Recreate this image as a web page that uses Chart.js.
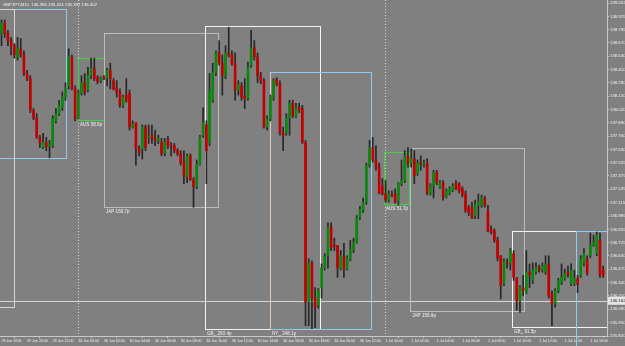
<!DOCTYPE html>
<html>
<head>
<meta charset="utf-8">
<script src="https://cdn.jsdelivr.net/npm/chart.js@4.4.1/dist/chart.umd.min.js"></script>
<style>
  html, body { margin: 0; padding: 0; background: #808080; }
  #c { display: block; }
</style>
</head>
<body>
<canvas id="c" width="625" height="346"></canvas>
<script>
// GBPJPY M15, 29 Jun 18:00 .. 1 Jul 17:00 (2016)
const opens = [
  138.76,138.86,138.76,138.69,138.64,138.53,138.61,138.55,138.37,138.32,
  138.01,137.94,137.75,137.65,137.70,137.67,137.67,137.91,137.98,138.04,
  138.14,138.25,138.53,138.22,137.94,138.18,138.28,138.21,138.35,138.42,
  138.33,138.30,138.33,138.33,138.40,138.30,138.23,138.19,138.06,138.16,
  138.18,137.85,137.89,137.64,137.64,137.85,137.75,137.77,137.74,137.72,
  137.70,137.60,137.73,137.67,137.67,137.62,137.59,137.51,137.37,137.57,
  137.34,137.27,137.49,137.77,137.87,137.70,138.11,138.38,138.57,138.47,
  138.35,138.57,138.55,138.47,138.21,138.25,138.15,138.13,138.45,138.62,
  138.53,138.35,138.30,137.85,137.93,138.14,138.31,138.27,137.79,137.79,
  137.94,138.08,137.95,138.04,138.03,137.70,136.15,136.53,136.19,136.12,
  136.29,136.48,136.60,136.88,136.70,136.70,136.47,136.59,136.47,136.57,
  136.66,136.73,136.97,137.04,137.12,137.48,137.65,137.53,137.46,137.28,
  137.20,137.14,137.19,137.20,137.12,137.30,137.33,137.57,137.50,137.54,
  137.40,137.50,137.49,137.50,137.20,137.28,137.41,137.26,137.31,137.17,
  137.21,137.23,137.30,137.30,137.25,137.20,137.07,137.07,136.99,137.09,
  137.09,137.16,137.04,136.86,136.84,136.75,136.60,136.33,136.53,136.53,
  136.62,136.38,136.16,136.29,136.24,136.44,136.36,136.44,136.48,136.46,
  136.44,136.52,136.23,136.13,136.26,136.34,136.38,136.44,136.33,136.33,
  136.38,136.41,136.53,136.57,136.60,136.70,136.62,136.75,136.46
];
const highs = [
  138.89,138.89,138.79,138.72,138.66,138.72,138.71,138.59,138.40,138.35,
  138.03,137.98,137.77,137.79,137.75,137.72,137.96,138.03,138.11,138.19,
  138.28,138.61,138.55,138.25,138.21,138.35,138.37,138.43,138.52,138.52,
  138.35,138.34,138.35,138.42,138.47,138.32,138.30,138.22,138.16,138.32,
  138.21,137.91,137.89,137.67,137.87,137.87,137.87,137.87,137.82,137.77,
  137.74,137.74,137.76,137.70,137.69,137.64,137.62,137.62,137.59,137.59,
  137.36,137.53,137.77,138.04,137.91,138.37,138.47,138.59,138.69,138.55,
  138.64,138.82,138.59,138.57,138.30,138.28,138.32,138.48,138.79,138.69,
  138.57,138.38,138.32,137.96,138.16,138.32,138.33,138.30,137.85,137.98,
  138.11,138.11,138.08,138.08,138.06,137.72,136.57,136.55,136.29,136.28,
  136.52,136.62,136.92,136.92,136.77,136.70,136.65,136.72,136.60,136.75,
  136.77,136.99,137.08,137.16,137.50,137.72,137.75,137.67,137.50,137.35,
  137.33,137.23,137.23,137.25,137.31,137.53,137.62,137.65,137.64,137.62,
  137.53,137.57,137.53,137.54,137.30,137.43,137.43,137.33,137.33,137.25,
  137.27,137.30,137.33,137.31,137.27,137.23,137.09,137.12,137.14,137.20,
  137.19,137.18,137.09,136.89,136.86,136.78,136.60,136.57,136.57,136.67,
  136.65,136.39,136.31,136.41,136.65,136.52,136.53,136.53,136.51,136.53,
  136.60,136.60,136.26,136.28,136.38,136.52,136.47,136.50,136.52,136.46,
  136.41,136.60,136.67,136.60,136.82,136.80,136.83,136.82,136.50
];
const lows = [
  138.64,138.72,138.64,138.55,138.52,138.50,138.53,138.35,138.30,137.99,
  137.92,137.74,137.65,137.64,137.62,137.55,137.65,137.89,137.96,138.01,
  138.11,138.22,138.21,137.91,137.93,138.16,138.16,138.19,138.32,138.30,
  138.27,138.28,138.31,138.25,138.22,138.21,138.14,138.04,138.04,138.09,
  137.82,137.84,137.48,137.57,137.54,137.62,137.69,137.69,137.67,137.69,
  137.57,137.57,137.64,137.57,137.60,137.57,137.48,137.30,137.31,137.33,
  137.07,137.25,137.48,137.75,137.30,137.67,138.09,138.35,138.45,138.16,
  138.32,138.53,138.45,138.11,138.16,138.11,138.03,138.11,138.43,138.50,
  138.28,138.27,137.84,137.82,137.91,138.11,138.25,137.77,137.62,137.77,
  137.77,137.94,137.94,137.99,137.69,135.92,135.92,135.89,135.90,136.09,
  136.19,136.46,136.48,136.65,136.65,136.39,136.46,136.39,136.46,136.55,
  136.63,136.72,136.95,137.02,137.10,137.46,137.51,137.43,137.20,137.19,
  137.12,137.12,137.17,137.11,137.09,137.28,137.31,137.46,137.46,137.30,
  137.38,137.43,137.46,137.19,137.19,137.16,137.29,137.25,137.14,137.16,
  137.19,137.22,137.24,137.21,137.17,137.02,136.99,136.96,136.96,136.96,
  137.07,137.07,136.83,136.81,136.73,136.55,136.18,136.31,136.48,136.46,
  136.36,136.07,136.05,136.21,136.23,136.29,136.33,136.42,136.44,136.44,
  136.42,136.19,135.92,136.10,136.24,136.32,136.36,136.39,136.31,136.31,
  136.24,136.39,136.50,136.41,136.58,136.69,136.60,136.39,136.39
];
const closes = [
  138.86,138.76,138.69,138.64,138.55,138.62,138.55,138.37,138.32,138.01,
  137.94,137.75,137.70,137.70,137.66,137.69,137.93,137.98,138.06,138.14,
  138.23,138.53,138.22,137.93,138.18,138.28,138.19,138.35,138.42,138.32,
  138.29,138.33,138.32,138.40,138.32,138.22,138.19,138.06,138.14,138.11,
  137.85,137.88,137.64,137.60,137.85,137.65,137.77,137.74,137.72,137.74,
  137.59,137.70,137.67,137.66,137.62,137.59,137.50,137.37,137.57,137.34,
  137.27,137.48,137.75,137.89,137.62,138.21,138.38,138.57,138.47,138.35,
  138.57,138.55,138.47,138.21,138.26,138.14,138.13,138.43,138.62,138.53,
  138.35,138.30,137.85,137.93,138.14,138.30,138.27,137.79,137.77,137.94,
  138.08,137.96,138.04,138.02,137.70,136.15,136.53,136.19,136.10,136.26,
  136.48,136.60,136.88,136.68,136.69,136.48,136.60,136.47,136.58,136.66,
  136.73,136.97,137.05,137.12,137.48,137.65,137.53,137.46,137.21,137.20,
  137.14,137.20,137.18,137.12,137.30,137.33,137.57,137.50,137.54,137.38,
  137.50,137.49,137.50,137.21,137.28,137.41,137.31,137.31,137.17,137.23,
  137.25,137.28,137.25,137.23,137.19,137.04,137.02,136.97,137.09,137.12,
  137.16,137.09,136.84,136.83,136.75,136.58,136.31,136.55,136.52,136.65,
  136.39,136.16,136.29,136.26,136.44,136.41,136.46,136.48,136.46,136.50,
  136.52,136.21,136.13,136.26,136.36,136.39,136.43,136.41,136.46,136.38,
  136.32,136.57,136.62,136.43,136.70,136.73,136.80,136.41,136.41
];

// time axis: bar index of each label (one label every 8 bars = 2 hours)
const timeTicks = [0,8,16,24,32,40,48,56,64,72,80,88,96,104,112,120,128,136,144,152,160,168,176,184];
const timeLabels = [
  '29 Jun 2016','29 Jun 20:00','29 Jun 22:00','30 Jun 00:00','30 Jun 02:00','30 Jun 04:00',
  '30 Jun 06:00','30 Jun 08:00','30 Jun 10:00','30 Jun 12:00','30 Jun 14:00','30 Jun 16:00',
  '30 Jun 18:00','30 Jun 20:00','30 Jun 22:00','1 Jul 00:00','1 Jul 02:00','1 Jul 04:00',
  '1 Jul 06:00','1 Jul 08:00','1 Jul 10:00','1 Jul 12:00','1 Jul 14:00','1 Jul 16:00'
];
const priceTicks = [
  135.820,135.950,136.080,136.210,136.340,136.470,136.600,136.725,136.855,136.985,
  137.115,137.245,137.375,137.505,137.630,137.760,137.890,138.020,138.150,138.280,
  138.410,138.540,138.670,138.795,138.925,139.052
];

// trading session boxes (bar index range, session high / low, range in pips)
const sessKind  = ['NY_', 'GB_', 'AUS', 'JAP', 'GB_', 'NY_', 'AUS', 'JAP', 'GB_', 'NY_'];
const sessStart = [-8, -8, 23.9, 32, 63.6, 83.9, 119.5, 127.7, 159.5, 179.5];
const sessEnd   = [20, 4, 32, 67.7, 99.5, 115.5, 127.3, 163.3, 196, 196];
const sessHigh  = [139.00, 139.00, 138.52, 138.76, 138.83, 138.38, 137.61, 137.65, 136.84, 136.84];
const sessLow   = [137.55, 136.10, 137.92, 137.07, 135.89, 135.89, 137.10, 136.06, 135.91, 135.60];
const sessPips  = [null, null, 58.9, 160.7, 293.4, 248.1, 51.7, 159.9, 91.5, null];

const daySeps = [23.9, 119.8];
const priceLine = 136.162;
const titleText = 'GBPJPY,M15  136.396 136.424 136.397 136.402';

const BULL = '#0c860c', BEAR = '#c20000', WICK = '#262626';
const TXT = '#f2f2f2', AXIS = '#c8c8c8';
const kindColor = { AUS: '#3cd43c', JAP: '#bcbcbc', GB_: '#f4f4f4', NY_: '#8ecdf2' };

const idx = opens.map((_, i) => i);
const bodyData = idx.map(i => ({ x: i, y: [Math.min(opens[i], closes[i]), Math.max(opens[i], closes[i])] }));
const wickData = idx.map(i => ({ x: i, y: [lows[i], highs[i]] }));
const bodyColors = idx.map(i => closes[i] >= opens[i] ? BULL : BEAR);

const overlay = {
  id: 'overlay',
  beforeDatasetsDraw(chart) {
    const { ctx, chartArea: a, scales: { x, y } } = chart;
    ctx.save();
    ctx.beginPath();
    ctx.rect(a.left, a.top, a.right - a.left, a.bottom - a.top);
    ctx.clip();
    ctx.lineWidth = 1;
    // day separators
    ctx.strokeStyle = '#d4d4d4';
    ctx.setLineDash([1, 2]);
    daySeps.forEach(v => {
      const px = Math.round(x.getPixelForValue(v)) + 0.5;
      ctx.beginPath(); ctx.moveTo(px, a.top); ctx.lineTo(px, a.bottom); ctx.stroke();
    });
    ctx.setLineDash([]);
    // horizontal price line
    const py = Math.round(y.getPixelForValue(priceLine)) + 0.5;
    ctx.strokeStyle = '#d6d6d6';
    ctx.beginPath(); ctx.moveTo(a.left, py); ctx.lineTo(a.right, py); ctx.stroke();
    // session boxes
    sessKind.forEach((k, i) => {
      const x1 = Math.round(x.getPixelForValue(sessStart[i])) + 0.5;
      const x2 = Math.round(x.getPixelForValue(sessEnd[i])) + 0.5;
      const y1 = Math.round(y.getPixelForValue(sessHigh[i])) + 0.5;
      const y2 = Math.round(y.getPixelForValue(sessLow[i])) + 0.5;
      ctx.strokeStyle = i === 1 ? '#dcd4d4' : kindColor[k];
      ctx.strokeRect(x1, y1, x2 - x1, y2 - y1);
      if (i === 5) {
        // left edge of this NY box shows the GB close colour
        ctx.strokeStyle = '#dccbb2';
        ctx.beginPath(); ctx.moveTo(x1, y1); ctx.lineTo(x1, y2); ctx.stroke();
      }
    });
    ctx.restore();
  },
  afterDraw(chart) {
    const { ctx, chartArea: a, scales: { x, y } } = chart;
    ctx.save();
    // open NY session line runs past the axis
    const nx = Math.round(x.getPixelForValue(sessStart[9])) + 0.5;
    ctx.strokeStyle = kindColor.NY_;
    ctx.lineWidth = 1;
    ctx.beginPath(); ctx.moveTo(nx, a.bottom); ctx.lineTo(nx, chart.height); ctx.stroke();

    ctx.font = '4.6px "Liberation Sans", Arial, sans-serif';
    ctx.fillStyle = TXT;
    ctx.textBaseline = 'middle';
    ctx.textAlign = 'left';
    sessKind.forEach((k, i) => {
      if (sessPips[i] == null) return;
      const px = x.getPixelForValue(sessStart[i]) + 2;
      const py = y.getPixelForValue(sessLow[i]) + 4.5;
      ctx.fillText(k + ' ' + sessPips[i].toFixed(1) + 'p', px, py);
    });
    // title
    ctx.font = '4.3px "Liberation Sans", Arial, sans-serif';
    ctx.fillText(titleText, 3, 5);
    // price tag on the axis
    const py = y.getPixelForValue(priceLine);
    ctx.fillStyle = '#e4e4e4';
    ctx.fillRect(a.right + 1, py - 4, 17, 8);
    ctx.fillStyle = '#202020';
    ctx.fillText(priceLine.toFixed(3), a.right + 3, py);
    ctx.restore();
  }
};

const noPad = s => { s.paddingTop = 0; s.paddingBottom = 0; s.paddingLeft = 0; s.paddingRight = 0; };

new Chart(document.getElementById('c'), {
  type: 'bar',
  data: {
    datasets: [
      { data: bodyData, backgroundColor: bodyColors, barThickness: 2, minBarLength: 1, grouped: false, order: 0 },
      { data: wickData, backgroundColor: WICK, barThickness: 1, minBarLength: 1, grouped: false, order: 1 }
    ]
  },
  options: {
    responsive: false,
    animation: false,
    devicePixelRatio: 1,
    layout: { padding: 0 },
    plugins: { legend: { display: false }, tooltip: { enabled: false } },
    scales: {
      x: {
        type: 'linear', min: -0.47, max: 189.2, offset: false,
        afterBuildTicks: s => { s.ticks = timeTicks.map(v => ({ value: v })); },
        afterFit: s => { s.height = 10; noPad(s); },
        ticks: {
          autoSkip: false, maxRotation: 0, align: 'start', padding: 1, color: TXT,
          font: { size: 3.6, family: 'Liberation Sans' },
          callback: (v, i) => timeLabels[i]
        },
        grid: { drawOnChartArea: false, drawTicks: true, tickLength: 2, color: AXIS },
        border: { display: true, color: AXIS }
      },
      y: {
        position: 'right', min: 135.82, max: 139.084,
        afterBuildTicks: s => { s.ticks = priceTicks.map(v => ({ value: v })); },
        afterFit: s => { s.width = 18; noPad(s); },
        ticks: {
          padding: 1, color: TXT, font: { size: 4.3, family: 'Liberation Sans' },
          callback: v => v.toFixed(3)
        },
        grid: { drawOnChartArea: false, drawTicks: true, tickLength: 2, color: AXIS },
        border: { display: true, color: AXIS }
      }
    }
  },
  plugins: [overlay]
});
</script>
</body>
</html>
